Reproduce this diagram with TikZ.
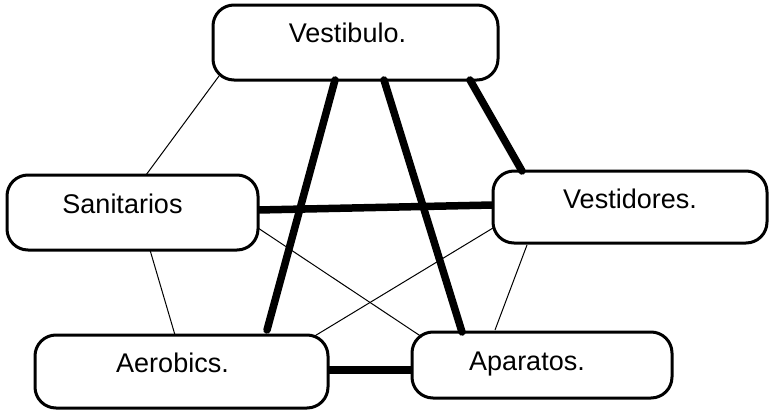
\documentclass[tikz,border=0pt]{standalone}
\usepackage{fontspec}
\setmainfont{Liberation Sans}
\begin{document}
\begin{tikzpicture}[x=1pt,y=-1pt,
  room/.style={draw,line width=3pt,rounded corners=21pt,fill=white,inner sep=0pt},
  roomlabel/.style={anchor=base,inner sep=0pt,font=\fontsize{27}{27}\selectfont},
  strong/.style={line width=7.5pt,line cap=round},
  weak/.style={line width=1pt}]
\useasboundingbox (0,0) rectangle (769,410);

% rooms
\node[room,minimum width=285pt,minimum height=75pt] (V)  at (355.5,42.5) {};
\node[room,minimum width=251pt,minimum height=75pt] (S)  at (132.5,212.5) {};
\node[room,minimum width=274pt,minimum height=72pt] (Vd) at (630,207) {};
\node[room,minimum width=293pt,minimum height=73pt] (Ae) at (181.5,371.5) {};
\node[room,minimum width=260pt,minimum height=66pt] (Ap) at (542,365) {};

% labels
\node[roomlabel] (tV)  at (347.5,42) {Vestibulo.};
\node[roomlabel] (tS)  at (122.5,213) {Sanitarios};
\node[roomlabel] (tVd) at (630,208) {Vestidores.};
\node[roomlabel] (tAe) at (172.5,372) {Aerobics.};
\node[roomlabel] (tAp) at (527,370) {Aparatos.};

% strong relations
\draw[strong] ([xshift=-20.5pt,yshift=-37.5pt]V.center) -- ([xshift=85.5pt,yshift=41.5pt]Ae.center);
\draw[strong] ([xshift=28.5pt,yshift=-37.5pt]V.center) -- ([xshift=-80pt,yshift=33pt]Ap.center);
\draw[strong] ([xshift=114.5pt,yshift=-37.5pt]V.center) -- ([xshift=-108pt,yshift=36pt]Vd.center);
\draw[strong,line cap=butt] ([xshift=125.5pt,yshift=2.5pt]S.center) -- ([xshift=-137pt,yshift=2pt]Vd.center);
\draw[strong,line cap=butt] ([xshift=146.5pt,yshift=1.5pt]Ae.center) -- ([xshift=-130pt,yshift=-5pt]Ap.center);

% weak relations
\draw[weak] ([xshift=-136.5pt,yshift=-33.5pt]V.center) -- ([xshift=13.5pt,yshift=37.5pt]S.center);
\draw[weak] ([xshift=17.5pt,yshift=-37.5pt]S.center) -- ([xshift=-6.5pt,yshift=36.5pt]Ae.center);
\draw[weak] ([xshift=125.5pt,yshift=-15.5pt]S.center) -- ([xshift=-120pt,yshift=28pt]Ap.center);
\draw[weak] ([xshift=-137pt,yshift=-21pt]Vd.center) -- ([xshift=131.5pt,yshift=34.5pt]Ae.center);
\draw[weak] ([xshift=-103pt,yshift=-38pt]Vd.center) -- ([xshift=-47pt,yshift=35pt]Ap.center);
\end{tikzpicture}
\end{document}
